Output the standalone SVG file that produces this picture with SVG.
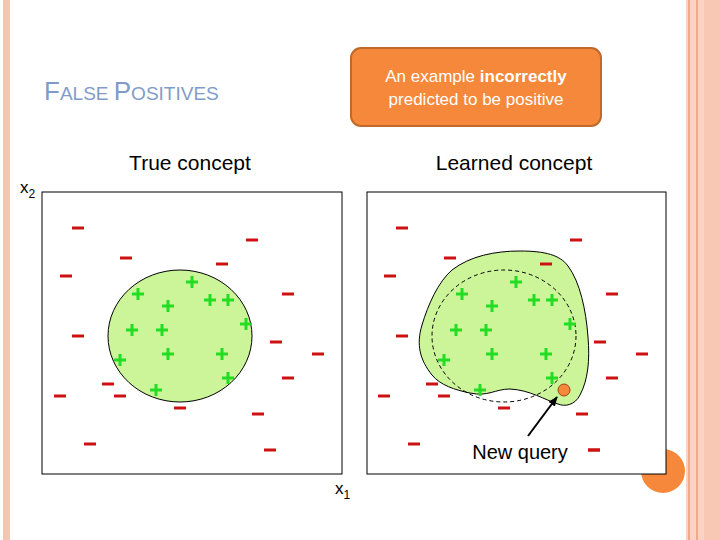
<svg xmlns="http://www.w3.org/2000/svg" width="720" height="540" viewBox="0 0 720 540">
<defs>
<style>
.m{stroke:#cc1111;stroke-width:3}
.p{stroke:#22dd22;stroke-width:3}
.t{font-family:"Liberation Sans",Arial,sans-serif;fill:#000}
.box{fill:#fff;stroke:#000;stroke-width:1}
</style>
<g id="mi"><line class="m" x1="-6" y1="0" x2="6" y2="0"/></g>
<g id="pl"><line class="p" x1="-6" y1="0" x2="6" y2="0"/><line class="p" x1="0" y1="-6" x2="0" y2="6"/></g>
<marker id="ah" markerWidth="10" markerHeight="8" refX="9" refY="4" orient="auto" markerUnits="userSpaceOnUse"><path d="M0,0L10,4L0,8z" fill="#000"/></marker>
<g id="pts">
<use href="#mi" x="78" y="228"/><use href="#mi" x="126" y="258"/><use href="#mi" x="66" y="276"/><use href="#mi" x="78" y="336"/><use href="#mi" x="60" y="396"/><use href="#mi" x="108" y="384"/><use href="#mi" x="120" y="396"/><use href="#mi" x="180" y="408"/><use href="#mi" x="90" y="444"/><use href="#mi" x="252" y="240"/><use href="#mi" x="222" y="264"/><use href="#mi" x="288" y="294"/><use href="#mi" x="276" y="342"/><use href="#mi" x="318" y="354"/><use href="#mi" x="288" y="378"/><use href="#mi" x="258" y="414"/><use href="#mi" x="270" y="450"/>
<use href="#pl" x="192" y="282"/><use href="#pl" x="138" y="294"/><use href="#pl" x="168" y="306"/><use href="#pl" x="210" y="300"/><use href="#pl" x="228" y="300"/><use href="#pl" x="246" y="324"/><use href="#pl" x="132" y="330"/><use href="#pl" x="162" y="330"/><use href="#pl" x="168" y="354"/><use href="#pl" x="222" y="354"/><use href="#pl" x="120" y="360"/><use href="#pl" x="228" y="378"/><use href="#pl" x="156" y="390"/>
</g>
</defs>
<rect width="720" height="540" fill="#fff"/>
<rect x="3" y="0" width="7" height="540" fill="#f6c4b0"/>
<rect x="686" y="0" width="34" height="540" fill="#fbd3c3"/>
<rect x="688" y="0" width="2" height="540" fill="#f0a98c"/>
<rect x="696" y="0" width="2" height="540" fill="#f0a98c"/>
<rect x="704" y="0" width="16" height="540" fill="#f9c8b5"/>
<circle cx="663" cy="471" r="22" fill="#f5883a"/>
<text x="44" y="100" style="font-family:'Liberation Sans',Arial,sans-serif;fill:#7f9cc9"><tspan font-size="26">F</tspan><tspan font-size="19">ALSE </tspan><tspan font-size="26">P</tspan><tspan font-size="19">OSITIVES</tspan></text>
<g id="callout">
<rect x="351" y="48" width="250" height="78" rx="10" fill="#f5883a" stroke="#c0692a" stroke-width="2"/>
<text x="476" y="82" text-anchor="middle" font-size="17" style="font-family:'Liberation Sans',Arial,sans-serif;fill:#fff">An example <tspan font-weight="bold">incorrectly</tspan></text>
<text x="476" y="105" text-anchor="middle" font-size="17" style="font-family:'Liberation Sans',Arial,sans-serif;fill:#fff">predicted to be positive</text>
</g>
<text class="t" x="190" y="170" text-anchor="middle" font-size="21">True concept</text>
<text class="t" x="514" y="170" text-anchor="middle" font-size="21">Learned concept</text>
<text class="t" x="20" y="193" font-size="17">x<tspan font-size="12" dy="5">2</tspan></text>
<text class="t" x="335" y="494" font-size="17">x<tspan font-size="12" dy="5">1</tspan></text>
<g id="left-plot">
<rect class="box" x="42" y="192" width="300" height="282"/>
<ellipse cx="180" cy="336" rx="72" ry="66" fill="#ccf59a" stroke="#000" stroke-width="1"/>
<use href="#pts"/>
</g>
<g id="right-plot">
<rect class="box" x="367" y="192" width="299" height="282"/>
<path d="M520,251 C545,251 560,255 568,266 C580,282 586,310 588,337 C590,360 588,380 580,395 C575,405 565,407 558,404 C545,400 530,390 510,389 C495,389 488,397 470,393 C455,390 440,385 432,375 C420,360 416,345 422,325 C428,305 438,282 452,270 C470,256 495,251 520,251 Z" fill="#ccf59a" stroke="#000" stroke-width="1"/>
<ellipse cx="504" cy="336" rx="72" ry="66" fill="none" stroke="#000" stroke-width="1" stroke-dasharray="4,3"/>
<use href="#pts" x="324"/>
<use href="#mi" x="594" y="450"/>
<circle id="query" cx="564" cy="390" r="6" fill="#f5883a" stroke="#a04010" stroke-width="1"/>
<text class="t" x="520" y="459" text-anchor="middle" font-size="20">New query</text>
</g>
<g id="connectors">
<line x1="528" y1="436" x2="557" y2="397" stroke="#000" stroke-width="2" marker-end="url(#ah)"/>
</g>
</svg>
